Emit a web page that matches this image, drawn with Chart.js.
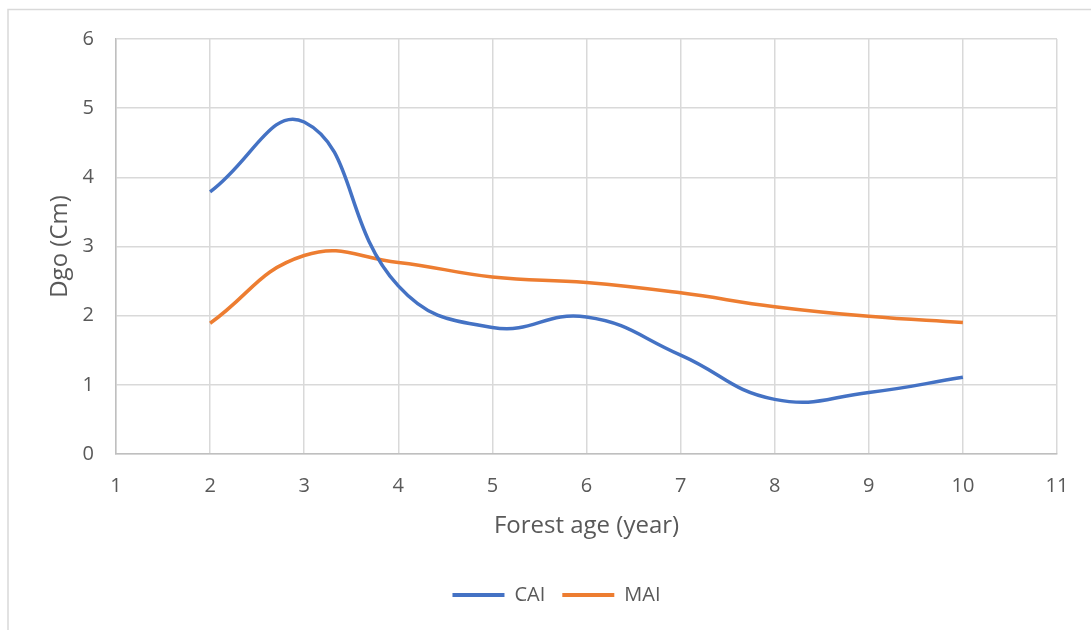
<!DOCTYPE html>
<html>
<head>
<meta charset="utf-8">
<script src="https://cdn.jsdelivr.net/npm/chart.js"></script>
<style>
  html, body { margin: 0; padding: 0; background: #fff; }
  #wrap { width: 1091px; height: 630px; position: relative; }
</style>
</head>
<body>
<div id="wrap"><canvas id="chart" width="1091" height="630"></canvas></div>
<script>
const ages = [2, 3, 4, 5, 6, 7, 8, 9, 10];
const caiValues = [3.79, 4.80, 2.43, 1.83, 1.98, 1.43, 0.79, 0.89, 1.11];
const maiValues = [1.89, 2.87, 2.77, 2.56, 2.48, 2.33, 2.13, 1.99, 1.90];
const seriesNames = ['CAI', 'MAI'];
const seriesColors = ['#4472C4', '#ED7D31'];

const fontFamily = '"Open Sans", "Noto Sans", sans-serif';
const textColor = '#595959';

// light frame around the whole chart, like the spreadsheet chart box
const framePlugin = {
    id: 'frame',
    beforeDraw(chart) {
        const ctx = chart.ctx;
        ctx.save();
        ctx.fillStyle = '#fff';
        ctx.fillRect(0, 0, chart.width, chart.height);
        ctx.strokeStyle = '#d9d9d9';
        ctx.lineWidth = 1.5;
        ctx.strokeRect(8, 9.5, chart.width + 20, chart.height + 20);
        ctx.restore();
    },
    // legend sits a bit right of the canvas centre in the original
    afterLayout(chart) {
        if (chart.legend) {
            chart.legend.left += 24;
            chart.legend.right += 24;
        }
    }
};

function toPoints(values) {
    return ages.map((a, i) => ({ x: a, y: values[i] }));
}

new Chart(document.getElementById('chart').getContext('2d'), {
    type: 'line',
    data: {
        datasets: [
            {
                label: seriesNames[0],
                data: toPoints(caiValues),
                borderColor: seriesColors[0],
                backgroundColor: seriesColors[0],
                borderWidth: 3.5,
                pointRadius: 0,
                tension: 0.45,
                fill: false
            },
            {
                label: seriesNames[1],
                data: toPoints(maiValues),
                borderColor: seriesColors[1],
                backgroundColor: seriesColors[1],
                borderWidth: 3.5,
                pointRadius: 0,
                tension: 0.45,
                fill: false
            }
        ]
    },
    options: {
        responsive: false,
        animation: false,
        layout: { padding: { left: 8, top: 39, right: 34, bottom: 15 } },
        scales: {
            x: {
                type: 'linear',
                min: 1,
                max: 11,
                ticks: { stepSize: 1, padding: 20, color: textColor, font: { family: fontFamily, size: 20 } },
                grid: { color: '#d9d9d9', lineWidth: 1.5, drawTicks: false },
                border: { color: '#bfbfbf', width: 1.5 },
                title: {
                    display: true,
                    text: 'Forest age (year)',
                    color: textColor,
                    font: { family: fontFamily, size: 24 },
                    padding: { top: 0, bottom: 27 }
                },
                afterFit(scale) { scale.height = 114; }
            },
            y: {
                min: 0,
                max: 6,
                ticks: { stepSize: 1, padding: 22, color: textColor, font: { family: fontFamily, size: 20 } },
                grid: { color: '#d9d9d9', lineWidth: 1.5, drawTicks: false },
                border: { color: '#bfbfbf', width: 1.5 },
                title: {
                    display: true,
                    text: 'Dgo (Cm)',
                    color: textColor,
                    font: { family: fontFamily, size: 24 },
                    padding: { top: 38, bottom: 0 }
                },
                afterFit(scale) { scale.width = 108; }
            }
        },
        plugins: {
            legend: {
                position: 'bottom',
                labels: {
                    color: textColor,
                    font: { family: fontFamily, size: 20 },
                    boxWidth: 52,
                    boxHeight: 4,
                    padding: 17,
                    generateLabels(chart) {
                        return chart.data.datasets.map((ds, i) => ({
                            text: ds.label,
                            fillStyle: ds.borderColor,
                            strokeStyle: ds.borderColor,
                            lineWidth: 0,
                            fontColor: textColor,
                            datasetIndex: i
                        }));
                    }
                }
            },
            tooltip: { enabled: false }
        }
    },
    plugins: [framePlugin]
});
</script>
</body>
</html>
